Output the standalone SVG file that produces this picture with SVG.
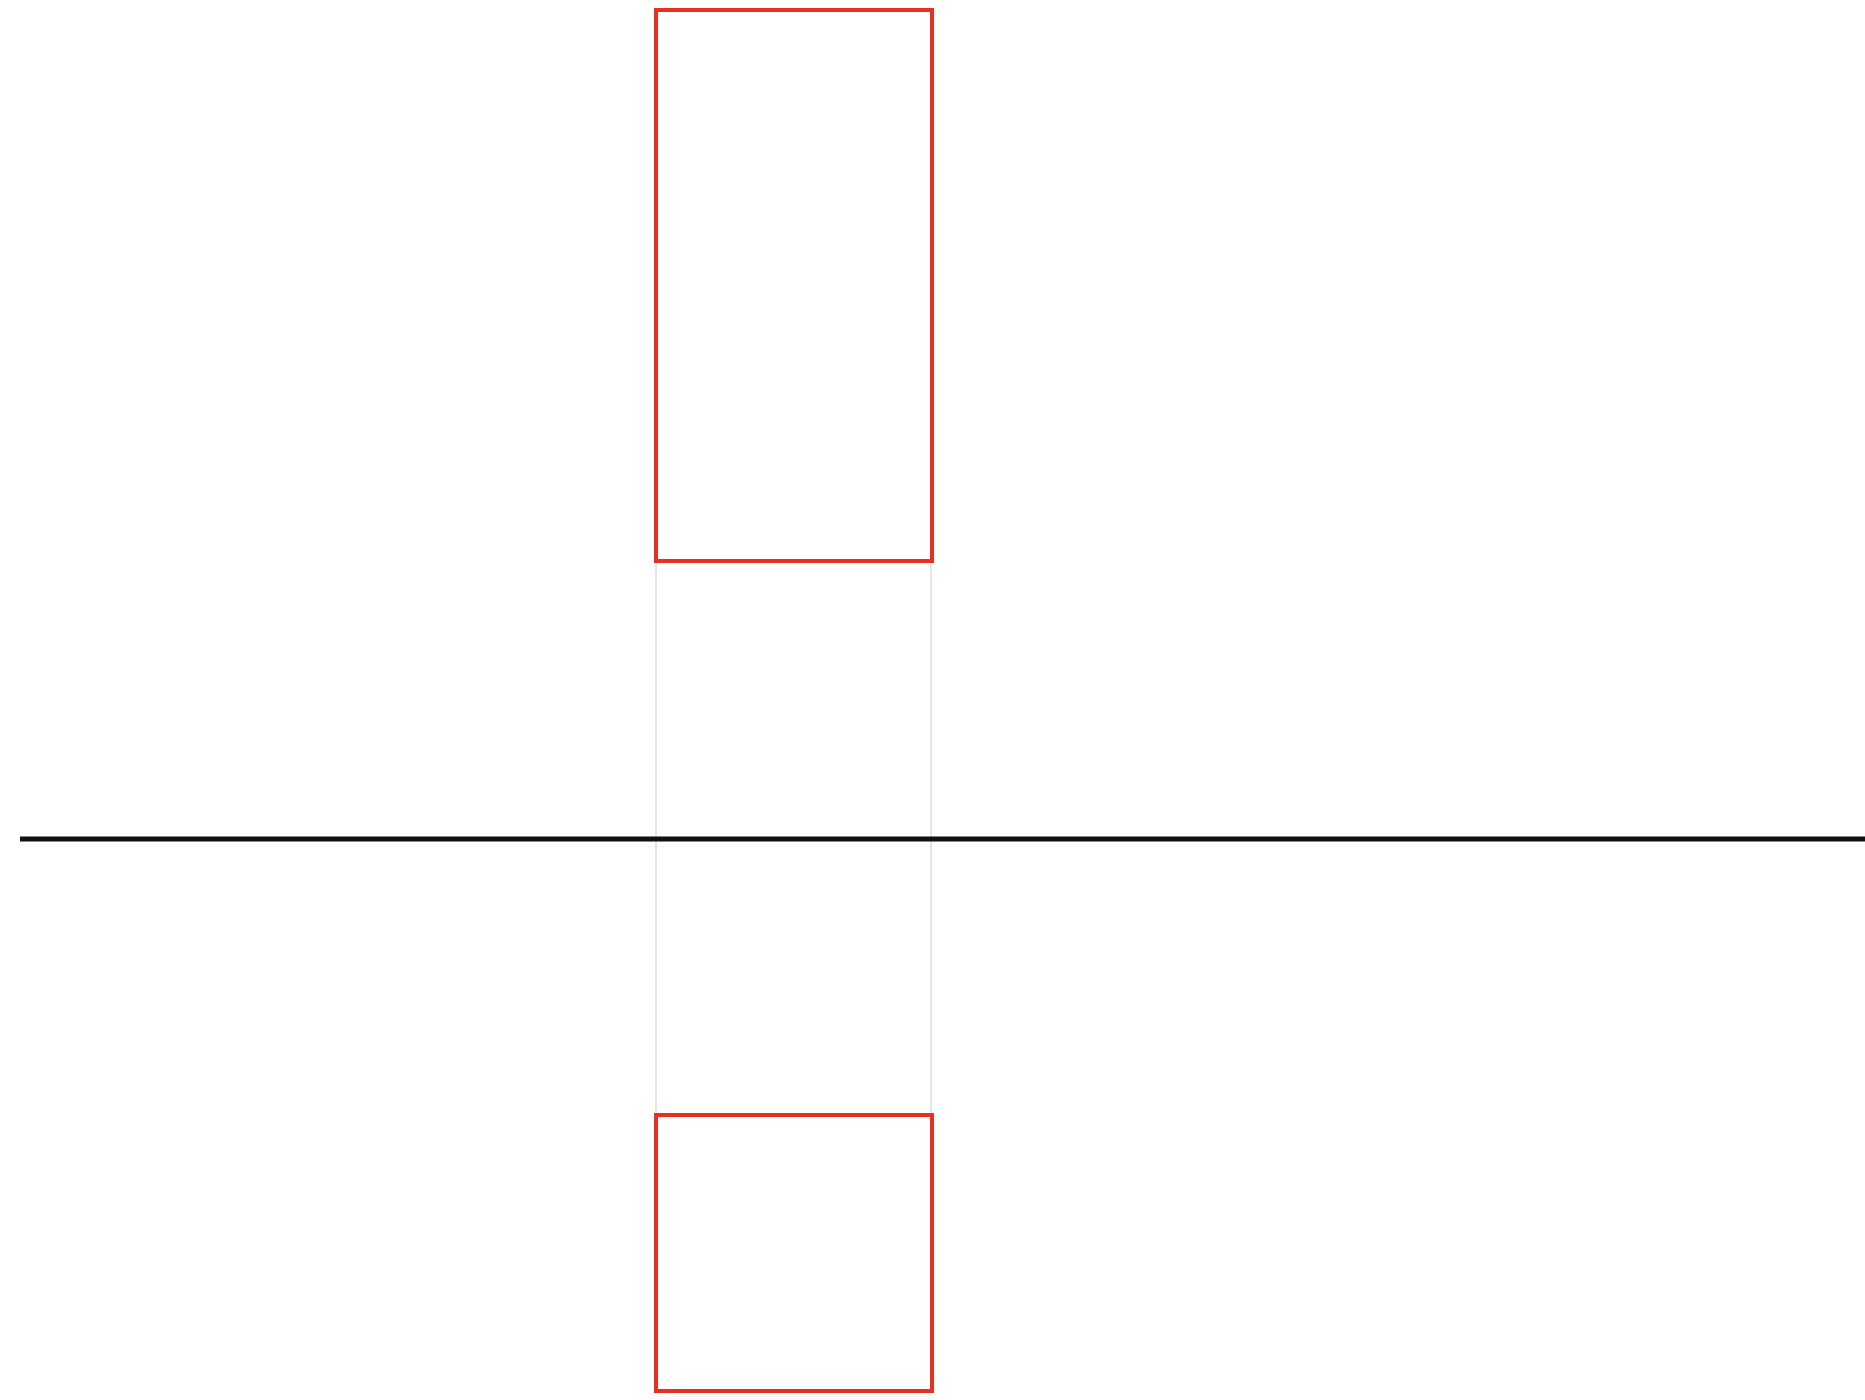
<svg xmlns="http://www.w3.org/2000/svg" width="1865" height="1400" viewBox="0 0 1865 1400">
<style>
.box{fill:#ffffff;stroke:#e8301c;stroke-width:4}
.guide{stroke:#dddddd;stroke-width:1.5;fill:none}
.axis{stroke:#111111;stroke-width:5;fill:none}
</style>
<rect width="1865" height="1400" fill="#ffffff"/>
<g id="connectors">
<line class="guide" x1="656" y1="561" x2="656" y2="1115"/>
<line class="guide" x1="931" y1="561" x2="931" y2="1115"/>
<line class="axis" x1="20" y1="839" x2="1865" y2="839"/>
</g>
<g id="top-box"><rect class="box" x="656" y="10" width="276" height="551"/></g>
<g id="bottom-box"><rect class="box" x="656" y="1115" width="276" height="276"/></g>
</svg>
